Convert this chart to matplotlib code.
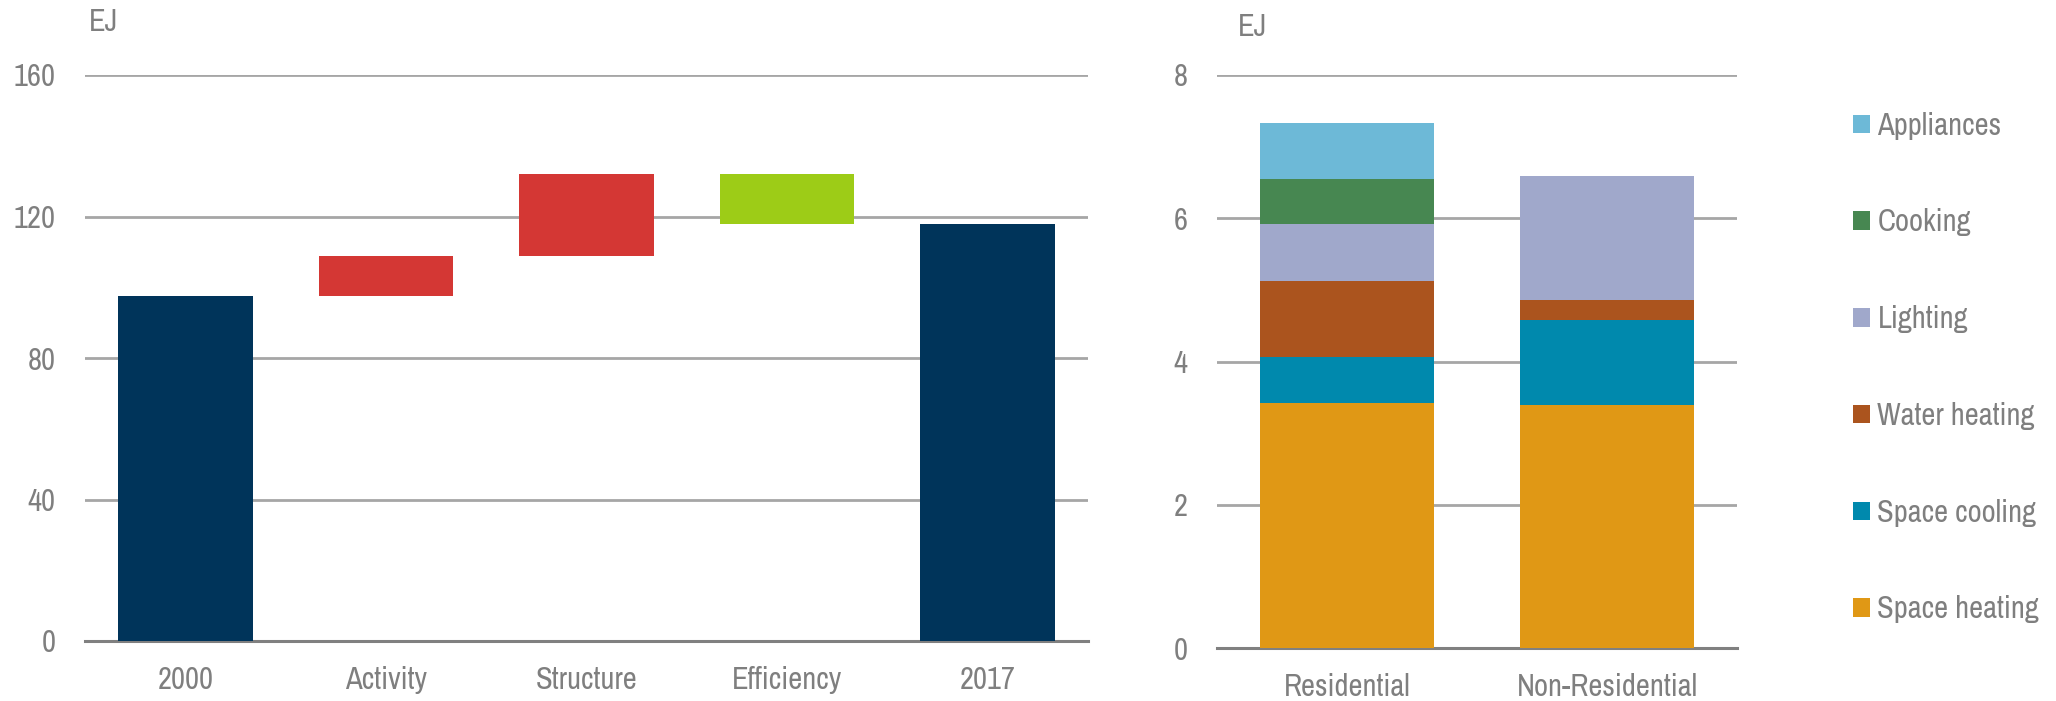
import matplotlib
matplotlib.use("Agg")
import matplotlib.pyplot as plt
import numpy as np

plt.rcParams['font.family'] = ['Archivo Narrow', 'Liberation Sans', 'DejaVu Sans']

# ---- Data: left waterfall ----
wf_categories = ["2000", "Activity", "Structure", "Efficiency", "2017"]
wf_start = 97.5
wf_changes = [11.3, 23.3, -14.2]   # Activity, Structure, Efficiency
wf_yticks = [0, 40, 80, 120, 160]

# ---- Data: right stacked bars ----
sectors = ["Residential", "Non-Residential"]
end_uses = ["Space heating", "Space cooling", "Water heating", "Lighting", "Cooking", "Appliances"]
space_heating = [3.42, 3.39]
space_cooling = [0.64, 1.19]
water_heating = [1.07, 0.28]
lighting = [0.79, 1.73]
cooking = [0.63, 0.0]
appliances = [0.78, 0.0]
stack_yticks = [0, 2, 4, 6, 8]

# ---- Styles ----
W, H = 2056, 701
DPI = 100
TXT = "#7F7F7F"
GRID = "#A6A6A6"
AXL = "#808080"
FS = 22
NAVY = "#00345A"
RED = "#D43734"
GREEN = "#9DCC17"
use_colors = ["#E09815", "#0089AD", "#AB541E", "#A0A8CB", "#478751", "#6DB9D7"]

fig = plt.figure(figsize=(W / DPI, H / DPI), dpi=DPI)

def frac_axes(x0, x1, ytop, ybot):
    return fig.add_axes([x0 / W, (H - ybot) / H, (x1 - x0) / W, (ybot - ytop) / H])

def style(ax, yticks):
    ax.set_axisbelow(True)
    ax.yaxis.grid(True, color=GRID, lw=2.0)
    ax.xaxis.grid(False)
    for s in ["left", "right", "top"]:
        ax.spines[s].set_visible(False)
    ax.spines["bottom"].set_color(AXL)
    ax.spines["bottom"].set_linewidth(2.2)
    ax.set_yticks(yticks)
    ax.tick_params(axis="both", length=0, labelsize=FS, labelcolor=TXT)
    ax.tick_params(axis="y", pad=21)
    ax.tick_params(axis="x", pad=18)

# ---- Left: waterfall ----
ax1 = frac_axes(85, 1088, 75, 641)
levels = np.cumsum([wf_start] + wf_changes)
wf_end = levels[-1]
bottoms = [0] + [min(levels[i], levels[i + 1]) for i in range(len(wf_changes))] + [0]
heights = [wf_start] + [abs(c) for c in wf_changes] + [wf_end]
cols = [NAVY] + [RED if c > 0 else GREEN for c in wf_changes] + [NAVY]
x = np.arange(len(wf_categories))
ax1.bar(x, heights, bottom=bottoms, width=0.67, color=cols, zorder=3)
ax1.set_xlim(-0.5, len(wf_categories) - 0.5)
ax1.set_ylim(0, 160)
ax1.set_xticks(x)
ax1.set_xticklabels(wf_categories)
style(ax1, wf_yticks)
fig.text(89 / W, 1 - 22 / H, "EJ", fontsize=FS, color=TXT, ha="left", va="center")

# ---- Right: stacked bars ----
ax2 = frac_axes(1217, 1737, 75, 648)
series = [space_heating, space_cooling, water_heating, lighting, cooking, appliances]
xs = np.arange(len(sectors))
bottom = np.zeros(len(sectors))
handles = []
for name, vals, c in zip(end_uses, series, use_colors):
    vals = np.array(vals)
    b = ax2.bar(xs, vals, bottom=bottom, width=0.67, color=c, label=name, zorder=3)
    handles.append(b)
    bottom = bottom + vals
ax2.set_xlim(-0.5, len(sectors) - 0.5)
ax2.set_ylim(0, 8)
ax2.set_xticks(xs)
ax2.set_xticklabels(sectors)
style(ax2, stack_yticks)
fig.text(1238 / W, 1 - 27 / H, "EJ", fontsize=FS, color=TXT, ha="left", va="center")

leg = fig.legend(handles[::-1], end_uses[::-1], loc="center left",
                 bbox_to_anchor=(1853 / W, 1 - 367.5 / H), frameon=False,
                 fontsize=FS, labelcolor=TXT, handlelength=0.55, handleheight=0.55,
                 handletextpad=0.25, labelspacing=2.25, borderpad=0, borderaxespad=0)

fig.savefig("out.png", dpi=DPI)
